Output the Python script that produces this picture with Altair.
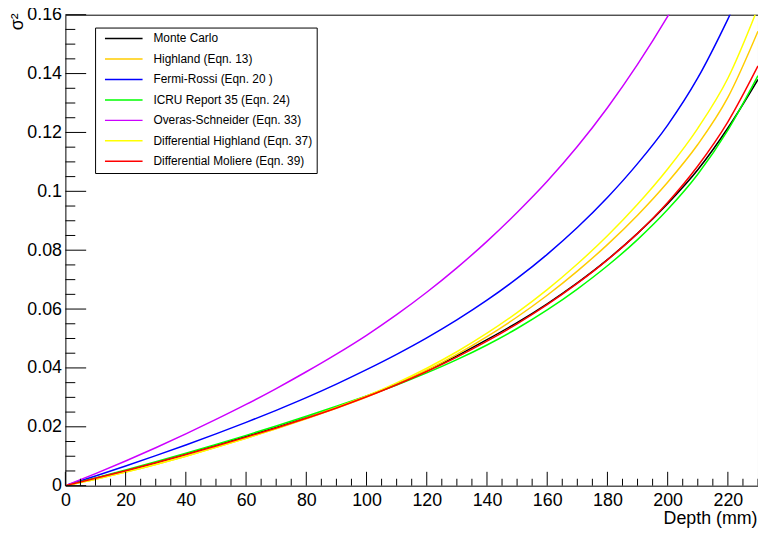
import altair as alt
import pandas as pd

# ---- data ----
DEPTH = [0, 10, 20, 30, 40, 50, 60, 70, 80, 90, 100, 110, 120, 130, 140, 150,
         160, 170, 180, 190, 200, 210, 220, 230]

SERIES = ["Monte Carlo", "Highland (Eqn. 13)", "Fermi-Rossi (Eqn. 20 )",
          "ICRU Report 35 (Eqn. 24)", "Overas-Schneider (Eqn. 33)",
          "Differential Highland (Eqn. 37)", "Differential Moliere (Eqn. 39)"]
COLORS = ["#000000", "#ffcc00", "#0000ff", "#00ff00", "#cc00ff", "#ffff00", "#ff0000"]

MONTE_CARLO = [0, 0.0025, 0.0051, 0.0078, 0.0107, 0.0137, 0.0167, 0.0198, 0.0231, 0.0266,
               0.0304, 0.0345, 0.0391, 0.0441, 0.0496, 0.0554, 0.0618, 0.0689, 0.0768,
               0.0857, 0.0958, 0.1073, 0.1215, 0.1380]
HIGHLAND = [0, 0.0022, 0.0046, 0.0072, 0.0100, 0.0130, 0.0161, 0.0193, 0.0227, 0.0263,
            0.0301, 0.0344, 0.0392, 0.0446, 0.0506, 0.0573, 0.0647, 0.0729, 0.0819,
            0.0919, 0.1031, 0.1159, 0.1319, 0.1544]
FERMI_ROSSI = [0, 0.0033, 0.0067, 0.0102, 0.0138, 0.0176, 0.0215, 0.0256, 0.0299, 0.0345,
               0.0394, 0.0446, 0.0502, 0.0563, 0.0630, 0.0704, 0.0786, 0.0877, 0.0979,
               0.1094, 0.1225, 0.1385, 0.1585, 0.1810]
ICRU = [0, 0.0026, 0.0053, 0.0081, 0.0110, 0.0140, 0.0171, 0.0203, 0.0236, 0.0270,
        0.0305, 0.0342, 0.0383, 0.0428, 0.0478, 0.0534, 0.0597, 0.0668, 0.0747,
        0.0836, 0.0938, 0.1058, 0.1208, 0.1393]
OVERAS = [0, 0.0041, 0.0084, 0.0129, 0.0176, 0.0225, 0.0276, 0.0330, 0.0387, 0.0447,
          0.0511, 0.0581, 0.0657, 0.0740, 0.0830, 0.0928, 0.1034, 0.1152, 0.1284,
          0.1431, 0.1594, 0.1774]
DIFF_HIGHLAND = [0, 0.0022, 0.0046, 0.0072, 0.0100, 0.0130, 0.0161, 0.0194, 0.0229, 0.0266,
                 0.0305, 0.0349, 0.0399, 0.0455, 0.0518, 0.0588, 0.0666, 0.0753, 0.0849,
                 0.0956, 0.1076, 0.1214, 0.1384, 0.1624]
DIFF_MOLIERE = [0, 0.0025, 0.0051, 0.0078, 0.0106, 0.0135, 0.0165, 0.0196, 0.0229, 0.0264,
                0.0302, 0.0343, 0.0388, 0.0437, 0.0491, 0.0550, 0.0615, 0.0687, 0.0767,
                0.0857, 0.0962, 0.1086, 0.1236, 0.1426]

X_MAJOR = [0, 20, 40, 60, 80, 100, 120, 140, 160, 180, 200, 220]
X_MINOR = [5, 10, 15, 25, 30, 35, 45, 50, 55, 65, 70, 75, 85, 90, 95, 105, 110, 115,
           125, 130, 135, 145, 150, 155, 165, 170, 175, 185, 190, 195, 205, 210, 215,
           225, 230]
Y_MAJOR = [0, 0.02, 0.04, 0.06, 0.08, 0.1, 0.12, 0.14, 0.16]
Y_MINOR = [0.005, 0.01, 0.015, 0.025, 0.03, 0.035, 0.045, 0.05, 0.055, 0.065, 0.07,
           0.075, 0.085, 0.09, 0.095, 0.105, 0.11, 0.115, 0.125, 0.13, 0.135, 0.145,
           0.15, 0.155]

rows = []
for name, vals in zip(SERIES, [MONTE_CARLO, HIGHLAND, FERMI_ROSSI, ICRU, OVERAS,
                               DIFF_HIGHLAND, DIFF_MOLIERE]):
    for d, v in zip(DEPTH, vals):
        rows.append({"depth": d, "sigma2": v, "series": name})
df = pd.DataFrame(rows)

FONT = "Liberation Sans"
W, H = 700, 476
xs = alt.Scale(domain=[0, 230], nice=False, zero=False)
ys = alt.Scale(domain=[0, 0.16], nice=False, zero=False)

lines = alt.Chart(df).mark_line(interpolate="monotone", strokeWidth=1.5, clip=True).encode(
    x=alt.X("depth:Q", scale=xs, axis=alt.Axis(
        values=X_MAJOR, format="d", ticks=False, domain=False, grid=False,
        labelFont=FONT, labelFontSize=18, labelColor="black", labelPadding=6,
        labelFlush=False, labelOverlap=False,
        title="Depth (mm)", titleFont=FONT, titleFontSize=18, titleFontWeight="normal",
        titleColor="black", titleX=699, titleY=38, titleAlign="right",
        titleBaseline="alphabetic")),
    y=alt.Y("sigma2:Q", scale=ys, axis=alt.Axis(
        values=Y_MAJOR, format="~g", ticks=False, domain=False, grid=False,
        labelFont=FONT, labelFontSize=18, labelColor="black", labelPadding=4,
        labelFlush=False, labelOverlap=False,
        title="σ²", titleFont=FONT, titleFontSize=18, titleFontWeight="normal",
        titleColor="black", titleX=-48, titleY=-2, titleAngle=270,
        titleAlign="right", titleBaseline="middle")),
    color=alt.Color("series:N", sort=SERIES,
                    scale=alt.Scale(domain=SERIES, range=COLORS),
                    legend=alt.Legend(
                        title=None, orient="none", legendX=30, legendY=13,
                        symbolType="stroke", symbolSize=1444, symbolStrokeWidth=1.5,
                        symbolOffset=5, labelOffset=10, clipHeight=14, rowPadding=6.7,
                        padding=4, strokeColor="black", fillColor="white",
                        labelFont=FONT, labelFontSize=12, labelColor="black",
                        labelLimit=400)),
)

xmaj = alt.Chart(pd.DataFrame({"depth": X_MAJOR})).mark_rule(color="black", strokeWidth=1).encode(
    x=alt.X("depth:Q", scale=xs), y=alt.value(H), y2=alt.value(H - 14))
xmin = alt.Chart(pd.DataFrame({"depth": X_MINOR})).mark_rule(color="black", strokeWidth=1).encode(
    x=alt.X("depth:Q", scale=xs), y=alt.value(H), y2=alt.value(H - 7))
ymaj = alt.Chart(pd.DataFrame({"sigma2": Y_MAJOR})).mark_rule(color="black", strokeWidth=1).encode(
    y=alt.Y("sigma2:Q", scale=ys), x=alt.value(0), x2=alt.value(21))
ymin = alt.Chart(pd.DataFrame({"sigma2": Y_MINOR})).mark_rule(color="black", strokeWidth=1).encode(
    y=alt.Y("sigma2:Q", scale=ys), x=alt.value(0), x2=alt.value(10))

chart = alt.layer(lines, xmin, xmaj, ymin, ymaj).properties(
    width=W, height=H,
    padding={"left": 58, "top": 4, "right": 0, "bottom": 40},
    autosize=alt.AutoSizeParams(type="none"),
    background="white",
).configure_view(stroke="black", strokeWidth=1)

chart.save("out.html", embed_options={"renderer": "svg", "actions": False})
